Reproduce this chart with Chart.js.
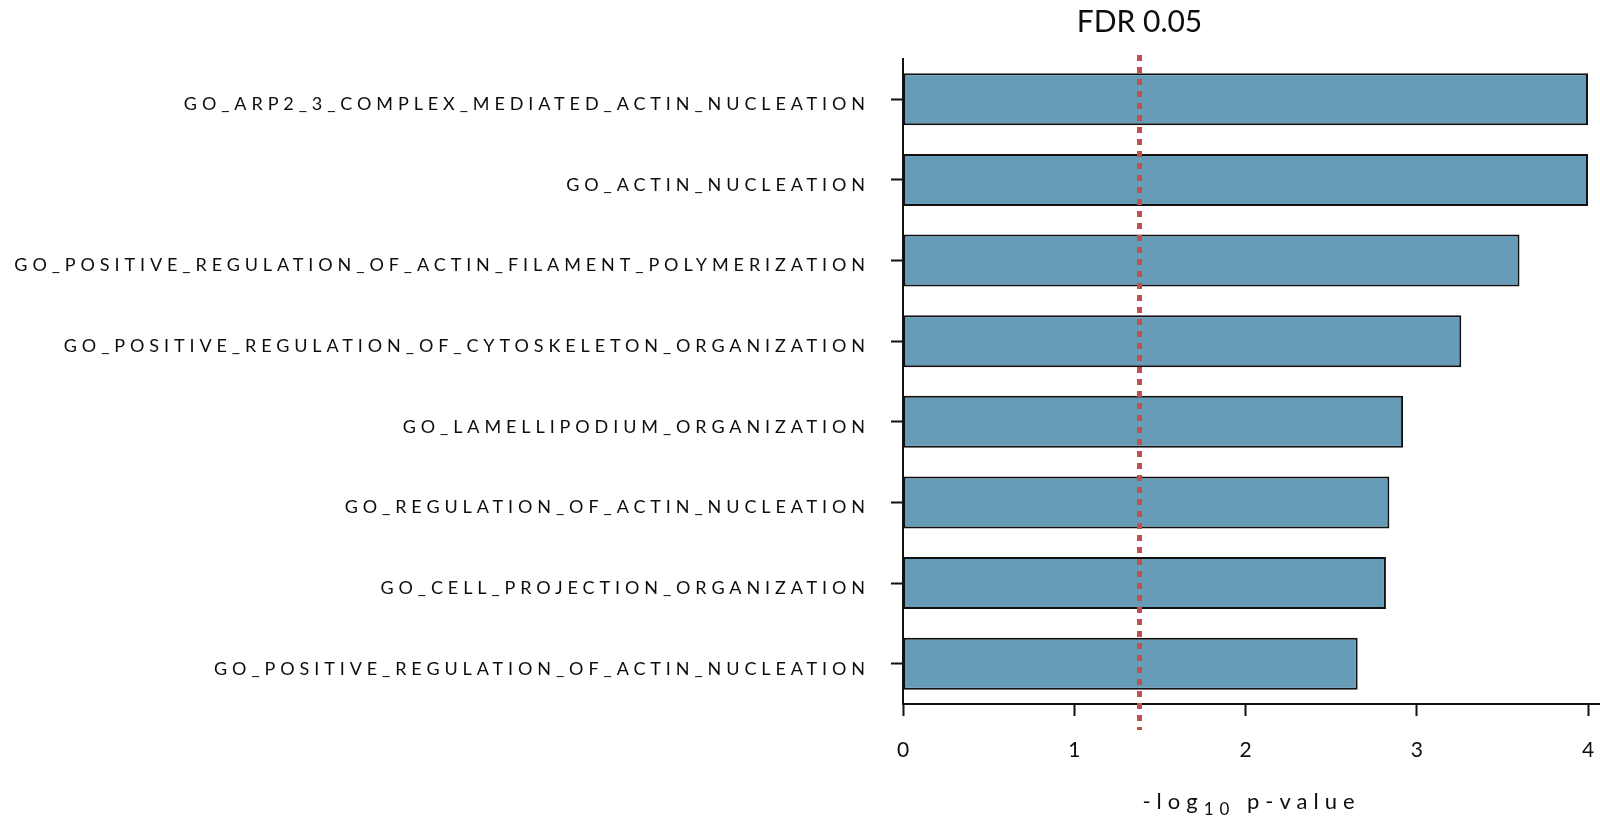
<!DOCTYPE html>
<html>
<head>
<meta charset="utf-8">
<title>GO enrichment</title>
<script src="https://cdn.jsdelivr.net/npm/chart.js@4/dist/chart.umd.min.js"></script>
<style>
  html, body { margin: 0; padding: 0; background: #ffffff; }
  #wrap { position: relative; width: 1600px; height: 820px; }
</style>
</head>
<body>
<div id="wrap"><canvas id="chart"></canvas></div>
<script>
// Enriched GO terms, top to bottom
const goTerms = [
  'GO_ARP2_3_COMPLEX_MEDIATED_ACTIN_NUCLEATION',
  'GO_ACTIN_NUCLEATION',
  'GO_POSITIVE_REGULATION_OF_ACTIN_FILAMENT_POLYMERIZATION',
  'GO_POSITIVE_REGULATION_OF_CYTOSKELETON_ORGANIZATION',
  'GO_LAMELLIPODIUM_ORGANIZATION',
  'GO_REGULATION_OF_ACTIN_NUCLEATION',
  'GO_CELL_PROJECTION_ORGANIZATION',
  'GO_POSITIVE_REGULATION_OF_ACTIN_NUCLEATION'
];

// -log10 p-value per term
const negLog10P = [4.0, 4.0, 3.60, 3.26, 2.92, 2.84, 2.82, 2.655];

// x-axis tick values
const xTicks = [0, 1, 2, 3, 4];

// significance cut-off line
const fdrThreshold = 1.38;
const fdrLabel = 'FDR 0.05';

// axis title pieces: main text, subscript, main text
const xTitleParts = ['-log', '10', ' p-value'];

const FONT = 'Lato, "Open Sans", sans-serif';
const INK = '#0d0d0d';

// letter-spaced category labels on the y axis
const spacedLabels = {
  id: 'spacedLabels',
  beforeDraw(chart) {
    const s = chart.scales.y;
    if (s && !s._spaced) {
      const orig = s.drawLabels.bind(s);
      s.drawLabels = function (area) {
        const ctx = chart.ctx;
        ctx.save();
        ctx.letterSpacing = '4.9px';
        orig(area);
        ctx.restore();
      };
      s._spaced = true;
    }
  }
};

// dotted FDR threshold line with its caption
const fdrLine = {
  id: 'fdrLine',
  afterDatasetsDraw(chart) {
    const ctx = chart.ctx;
    const x = Math.round(chart.scales.x.getPixelForValue(fdrThreshold)) + 0.5;
    ctx.save();
    ctx.strokeStyle = '#c0504d';
    ctx.lineWidth = 5;
    ctx.setLineDash([6, 6]);
    ctx.beginPath();
    ctx.moveTo(x, 55);
    ctx.lineTo(x, 730);
    ctx.stroke();
    ctx.restore();

    ctx.save();
    ctx.font = '30px ' + FONT;
    ctx.fillStyle = INK;
    ctx.textAlign = 'center';
    ctx.textBaseline = 'alphabetic';
    ctx.fillText(fdrLabel, x, 32);
    ctx.restore();
  }
};

// x-axis title with subscripted base
const xTitle = {
  id: 'xTitle',
  afterDraw(chart) {
    const ctx = chart.ctx;
    const xs = chart.scales.x;
    const base = 809;
    const parts = [
      { t: xTitleParts[0], size: 22, dy: 0 },
      { t: xTitleParts[1], size: 17, dy: 6 },
      { t: xTitleParts[2], size: 22, dy: 0 }
    ];
    ctx.save();
    ctx.letterSpacing = '6px';
    ctx.fillStyle = INK;
    ctx.textAlign = 'left';
    ctx.textBaseline = 'alphabetic';
    let total = 0;
    parts.forEach(p => {
      ctx.font = p.size + 'px ' + FONT;
      p.w = ctx.measureText(p.t).width;
      total += p.w;
    });
    let x = (xs.left + xs.right) / 2 - total / 2;
    parts.forEach(p => {
      ctx.font = p.size + 'px ' + FONT;
      ctx.fillText(p.t, x, base + p.dy);
      x += p.w;
    });
    ctx.restore();
  }
};

new Chart(document.getElementById('chart'), {
  type: 'bar',
  data: {
    labels: goTerms,
    datasets: [{
      data: negLog10P,
      backgroundColor: '#679cb9',
      borderColor: '#111111',
      borderWidth: 2,
      borderSkipped: false,
      categoryPercentage: 1.0,
      barPercentage: 0.645
    }]
  },
  options: {
    indexAxis: 'y',
    responsive: true,
    maintainAspectRatio: false,
    animation: false,
    layout: { padding: { top: 59, right: 0, bottom: 0, left: 0 } },
    plugins: {
      legend: { display: false },
      tooltip: { enabled: false },
      title: { display: false }
    },
    scales: {
      x: {
        type: 'linear',
        min: 0,
        max: 4.07,
        afterBuildTicks(scale) {
          scale.ticks = xTicks.map(v => ({ value: v }));
        },
        afterFit(scale) {
          scale.height = 116;
          scale.paddingLeft = 0;
          scale.paddingRight = 0;
        },
        border: { display: true, color: '#111111', width: 2 },
        grid: {
          display: true,
          drawOnChartArea: false,
          drawTicks: true,
          tickLength: 12,
          tickWidth: 2,
          tickColor: '#111111'
        },
        ticks: {
          color: INK,
          font: { family: FONT, size: 21 },
          padding: 22,
          maxRotation: 0
        }
      },
      y: {
        type: 'category',
        offset: true,
        afterFit(scale) {
          scale.width = 903;
          scale.paddingTop = 0;
          scale.paddingBottom = 0;
        },
        border: { display: true, color: '#111111', width: 2 },
        grid: {
          display: true,
          offset: false,
          drawOnChartArea: false,
          drawTicks: true,
          tickLength: 12,
          tickWidth: 2,
          tickColor: '#111111'
        },
        ticks: {
          color: INK,
          font: { family: FONT, size: 18 },
          padding: 21,
          labelOffset: 5,
          autoSkip: false
        }
      }
    }
  },
  plugins: [spacedLabels, fdrLine, xTitle]
});
</script>
</body>
</html>
